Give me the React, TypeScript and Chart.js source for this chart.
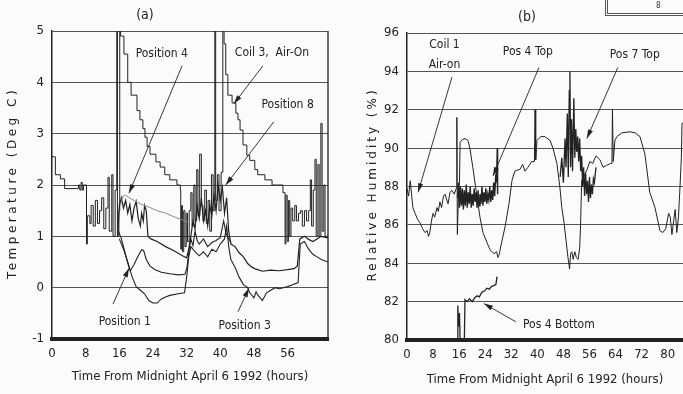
import { useEffect, useRef } from 'react';
import { Chart, registerables } from 'chart.js';

Chart.register(...registerables);

const NARROW = "'Liberation Sans Narrow', 'DejaVu Sans Condensed', 'Arial Narrow', 'Liberation Sans', sans-serif";
const PLOTTER = "'DejaVu Sans', 'Liberation Sans', sans-serif";
const INK = '#222222';
const GRID = '#555555';

type Pt = [number, number];

// ---------- Panel (a): temperature ----------
const hourMaxA = 65.6;
const hourTicksA = [0, 8, 16, 24, 32, 40, 48, 56];
const tempMin = -1;
const tempMax = 5;
const tempStep = 1;

const coil3AirOn: Pt[] = [
  [0, 2.55], [0.8, 2.2], [2, 2.12], [3, 1.93], [6.3, 2.0], [6.6, 1.9], [6.9, 2.05], [7.2, 1.9], [7.5, 2.0],
  [8.2, 0.85], [8.4, 1.4], [9, 1.25], [9.3, 1.6], [9.8, 1.2], [10.3, 1.7], [10.8, 1.25], [11.3, 1.5],
  [11.8, 1.75], [12.3, 1.15], [12.8, 1.55], [13.3, 2.15], [13.6, 1.1], [14.2, 2.2], [14.5, 1.0], [15, 1.9],
  [15.4, 5.6], [15.55, 1.0], [15.9, 1.5], [16.1, 5.6], [16.3, 4.9], [17.1, 4.55], [18, 4.0], [18.8, 3.75],
  [20.2, 3.45], [20.9, 3.27], [21.6, 3.1], [22.1, 2.93], [22.6, 2.75], [23.3, 2.6], [24.7, 2.45], [25.7, 2.35],
  [26.8, 2.2], [28, 2.1], [29.7, 2.0], [30.5, 1.9], [30.6, 0.75], [30.8, 1.6], [31, 0.7], [31.3, 1.5],
  [31.6, 0.8], [31.9, 1.45], [32.2, 0.9], [32.6, 1.5], [33, 1.85], [33.3, 1.2], [33.7, 2.0], [34, 1.3],
  [34.4, 2.3], [34.7, 1.4], [35.1, 2.6], [35.5, 1.6], [35.9, 1.3], [36.3, 1.9], [36.7, 1.25], [37.1, 1.7],
  [37.5, 1.1], [37.9, 2.2], [38.3, 1.5], [38.7, 5.6], [38.9, 1.7], [39.3, 2.2], [39.7, 1.5], [40.2, 2.25],
  [40.6, 5.6], [40.9, 4.75], [41.3, 4.15], [41.8, 3.75], [42.8, 3.6], [43.7, 3.4], [44.2, 3.27], [44.7, 3.07],
  [45.4, 2.78], [46.3, 2.58], [47, 2.48], [48.2, 2.3], [48.9, 2.2], [50.6, 2.1], [52.3, 2.0], [54.9, 1.85],
  [55.4, 0.85], [55.6, 1.8], [55.9, 0.9], [56.2, 1.7], [56.5, 1.0], [56.8, 1.55], [57.2, 1.3], [57.7, 1.6],
  [58.1, 1.3], [58.6, 1.45], [59.1, 1.5], [59.5, 1.2], [60, 1.5], [60.5, 1.3], [61, 1.5], [61.4, 2.1],
  [61.7, 1.2], [62.1, 1.9], [62.5, 2.5], [62.8, 1.0], [63.2, 2.4], [63.5, 1.0], [63.9, 3.2], [64.2, 1.1],
  [64.6, 2.0], [64.9, 1.0], [65.6, 1.0],
];

const position4: Pt[] = [
  [15.6, 1.0], [16, 1.6], [16.5, 1.75], [17, 1.55], [17.5, 1.7], [18, 1.45], [18.5, 1.62], [19, 1.3],
  [19.5, 1.55], [20, 1.68], [20.5, 1.35], [21, 1.2], [21.3, 1.45], [21.7, 1.3], [22, 1.6], [22.4, 1.5],
  [22.8, 1.0], [23.5, 0.95], [25, 0.9], [27, 0.8], [29, 0.72], [31, 0.62], [32, 0.58], [32.5, 0.75],
  [33, 1.0], [33.5, 1.3], [34, 1.15], [34.5, 1.6], [35, 1.35], [35.5, 1.75], [36, 1.3], [36.5, 1.5],
  [37, 1.2], [37.5, 1.6], [38, 1.4], [38.5, 1.8], [39, 1.5], [39.5, 2.0], [40, 1.7], [40.5, 1.95],
  [41, 1.45], [41.5, 1.75], [42, 1.1], [42.5, 0.85], [43.5, 0.8], [44.5, 0.68], [45.5, 0.6], [46.5, 0.47],
  [47.5, 0.4], [48.5, 0.36], [50, 0.32], [52, 0.34], [54, 0.33], [56, 0.35], [57.5, 0.37], [58.3, 0.42],
  [58.9, 0.95], [60, 1.0], [61, 0.94], [62, 0.9], [63, 0.95], [64, 1.0], [65.6, 0.97],
];

const position8: Pt[] = [
  [16.3, 1.6], [16.8, 1.78], [17.5, 1.8], [19, 1.72], [21, 1.63], [23, 1.57], [25, 1.5], [27, 1.45],
  [29, 1.38], [31, 1.32], [32.3, 1.28],
];

const position1: Pt[] = [
  [15.8, 1.1], [16.5, 0.95], [17.3, 0.7], [18, 0.48], [18.6, 0.33], [19.5, 0.45], [20.5, 0.62], [21.3, 0.74],
  [21.8, 0.72], [22.4, 0.55], [23.3, 0.42], [24.5, 0.35], [26, 0.3], [28, 0.27], [30, 0.25], [31.6, 0.26],
  [32.1, 0.4], [32.6, 0.75], [33, 0.95], [33.5, 0.82], [34, 1.1], [34.5, 0.92], [35, 0.85], [36, 0.95],
  [37, 0.8], [38, 0.88], [39, 0.92], [40, 0.98], [40.8, 1.3], [41.4, 1.05], [42, 0.95], [42.6, 0.88],
];

const position3: Pt[] = [
  [16, 0.95], [17, 0.75], [18, 0.5], [19, 0.22], [20, 0.02], [21, -0.05], [22, -0.12], [23, -0.25],
  [24, -0.3], [25, -0.3], [26, -0.22], [27, -0.18], [28, -0.15], [30, -0.12], [31.5, -0.1], [32, 0.2],
  [32.5, 0.6], [33, 0.8], [34, 0.7], [35, 0.62], [36, 0.7], [37, 0.6], [38, 0.75], [39, 0.7], [40, 0.85],
  [41, 0.95], [41.5, 1.2], [42, 0.8], [42.5, 0.55], [43.5, 0.4], [44.5, 0.2], [45.5, 0.06], [46.5, 0.0],
  [47, -0.1], [48, -0.2], [48.5, -0.08], [49, -0.15], [50, -0.25], [51, -0.1], [52, -0.05], [53, 0.0],
  [54, -0.02], [55, 0.0], [56, 0.02], [57, 0.05], [58.5, 0.1], [59, 0.85], [60, 0.9], [61, 0.75],
  [62, 0.65], [63, 0.6], [64, 0.55], [65.6, 0.5],
];

// ---------- Panel (b): relative humidity ----------
const hourMaxB = 84.7;
const hourTicksB = [0, 8, 16, 24, 32, 40, 48, 56, 64, 72, 80];
const rhMin = 80;
const rhMax = 96;
const rhStep = 2;

const coil1AirOn: Pt[] = [
  [0, 87.9], [0.5, 87.5], [1, 88.3], [1.4, 87.6], [1.8, 86.9], [2.5, 86.6], [3.2, 86.3], [4, 86.1],
  [4.8, 85.8], [5.5, 85.6], [6.2, 85.7], [6.6, 85.4], [7, 85.6], [7.5, 86.2], [8, 86.6], [8.5, 86.4],
  [9.2, 86.9], [9.6, 86.7], [10.1, 87.2], [10.6, 86.9], [11.2, 87.5], [11.7, 87.6], [12.2, 87.3], [12.6, 87.1],
  [13.2, 87.7], [13.8, 87.8], [14.5, 87.6], [15.1, 87.9], [15.3, 91.6], [15.45, 85.5], [15.8, 87.6], [16.1, 88.2],
  [16.3, 90.3], [17, 90.45], [17.8, 90.5], [18.7, 90.4], [19.3, 90.0], [20.2, 89.0], [21.2, 87.8], [22.4, 86.4],
  [23.3, 85.6], [24.5, 85.1], [25.5, 84.7], [26.7, 84.5], [27.5, 84.6], [27.9, 84.3], [28.3, 84.45], [28.8, 84.9],
  [30.1, 85.9], [31.3, 87.1], [32.2, 88.3], [33.1, 88.8], [33.8, 88.85], [34.7, 88.9], [35.5, 89.15], [36.2, 88.8],
  [37.1, 89.0], [38.3, 89.3], [39.1, 89.3], [39.3, 92.0], [39.5, 89.4], [39.9, 90.4], [41, 90.6], [42.3, 90.6],
  [43.9, 90.4], [44.8, 90.0], [46, 89.2], [46.9, 88.0], [47.5, 86.9], [48.2, 86.1], [48.8, 85.2], [49.4, 84.3],
  [49.9, 83.7], [50.2, 84.5], [50.6, 84.6], [51, 84.2], [51.5, 84.6], [52, 84.3], [52.5, 84.2], [53, 84.8],
  [53.3, 86.2], [53.6, 88.3], [54.5, 88.6], [55.3, 88.9], [56.1, 89.3], [57, 89.2], [58, 89.6], [59.2, 89.4],
  [60.2, 89.0], [61.2, 89.1], [62.5, 89.2], [62.9, 89.2], [63.05, 92.0], [63.3, 89.3], [63.8, 90.4], [64.4, 90.6],
  [66, 90.8], [68.4, 90.85], [70, 90.8], [71.5, 90.6], [73, 89.7], [73.9, 88.5], [74.5, 87.7], [76.1, 86.9],
  [77, 86.2], [77.6, 85.7], [78.5, 85.6], [79.4, 85.8], [80.3, 86.6], [80.8, 86.4], [81.3, 85.5], [81.9, 86.3],
  [82.3, 86.8], [82.8, 85.6], [83.3, 86.4], [83.7, 87.7], [84.2, 89.5], [84.4, 91.3], [84.7, 91.3],
];

const pos4Top: Pt[] = [
  [15.5, 87.4], [15.8, 88.2], [16.1, 86.9], [16.4, 88.0], [16.7, 87.0], [17, 87.9], [17.3, 86.8], [17.6, 87.8],
  [17.9, 87.0], [18.2, 88.1], [18.5, 86.9], [18.8, 87.7], [19.1, 87.1], [19.4, 88.0], [19.7, 86.9], [20, 87.6],
  [20.3, 87.0], [20.6, 87.9], [20.9, 87.2], [21.2, 87.7], [21.5, 86.9], [21.8, 87.8], [22.1, 87.0], [22.4, 87.6],
  [22.7, 87.1], [23, 88.0], [23.3, 87.0], [23.6, 87.7], [23.9, 87.2], [24.2, 87.9], [24.5, 87.1], [24.8, 87.6],
  [25.1, 87.3], [25.4, 88.0], [25.7, 87.2], [26, 87.8], [26.3, 87.3], [26.6, 88.2], [26.9, 87.5], [27.2, 88.5],
  [27.5, 88.3], [27.7, 90.0], [27.8, 87.6],
];

const pos7Top: Pt[] = [
  [47, 88.5], [47.5, 89.5], [48, 88.2], [48.5, 90.5], [48.8, 89.0], [49.2, 91.8], [49.5, 88.5], [49.8, 93.0],
  [50, 94.0], [50.2, 89.0], [50.5, 91.5], [50.8, 88.8], [51.2, 92.6], [51.5, 89.5], [51.8, 91.0], [52.1, 89.8],
  [52.4, 90.6], [52.7, 89.3], [53, 90.5], [53.3, 88.8], [53.6, 89.6], [53.9, 88.0], [54.2, 89.0], [54.5, 87.5],
  [54.8, 88.7], [55.1, 87.6], [55.4, 88.3], [55.7, 87.2], [56, 88.5], [56.3, 87.4], [56.6, 88.1], [56.9, 87.6],
  [57.2, 88.4], [57.5, 88.2], [58, 89.0],
];

const pos4Bottom: Pt[] = [
  [15.5, 80], [15.6, 81.8], [15.8, 80.7], [16.1, 81.4], [16.3, 80], [17.6, 80], [17.8, 82.1], [18.5, 82.0],
  [19.2, 82.15], [20, 82.0], [20.8, 82.2], [21.5, 82.3], [22.2, 82.25], [23, 82.5], [23.8, 82.55], [24.5, 82.7],
  [25.2, 82.65], [26, 82.8], [26.8, 82.85], [27.3, 82.9], [27.6, 83.3],
];

type Note = { text: string[]; at: Pt; from: Pt; to: Pt };

const notesA: Note[] = [
  { text: ['Position 4'], at: [26.1, 4.55], from: [30.9, 4.32], to: [18.3, 1.84] },
  { text: ['Coil 3,  Air-On'], at: [52.3, 4.57], from: [50.1, 4.32], to: [43.2, 3.58] },
  { text: ['Position 8'], at: [56, 3.56], from: [52.7, 3.23], to: [41.3, 2.0] },
  { text: ['Position 1'], at: [17.3, -0.67], from: [14.5, -0.32], to: [18.3, 0.38] },
  { text: ['Position 3'], at: [45.8, -0.75], from: [44.2, -0.47], to: [46.8, -0.01] },
];

const notesB: Note[] = [
  { text: ['Coil 1', 'Air-on'], at: [11.5, 94.85], from: [13.8, 93.7], to: [3.4, 87.7] },
  { text: ['Pos 4 Top'], at: [37.1, 95.0], from: [40.5, 94.2], to: [26.4, 88.55] },
  { text: ['Pos 7 Top'], at: [69.9, 94.85], from: [64.7, 94.2], to: [55.2, 90.5] },
  { text: ['Pos 4 Bottom'], at: [46.6, 80.8], from: [33.4, 80.95], to: [23.6, 81.9] },
];

type Decor = {
  panel: string; panelHour: number;
  yTitle: string; yTitleX: number; yTitleSpacing: number;
  xTitle: string; xTitleDy: number;
  notes: Note[]; rightBorder: boolean;
};

function decorPlugin(d: Decor) {
  return {
    id: 'decor',
    afterDraw(chart: any) {
      const { ctx, chartArea: a, scales } = chart;
      const xs = scales.x;
      const ys = scales.y;
      ctx.save();
      ctx.fillStyle = INK;
      ctx.strokeStyle = INK;
      if (d.rightBorder) {
        ctx.lineWidth = 1.3;
        ctx.beginPath();
        ctx.moveTo(a.right, a.top);
        ctx.lineTo(a.right, a.bottom);
        ctx.stroke();
      }
      ctx.textAlign = 'center';
      ctx.textBaseline = 'middle';
      ctx.font = `14px ${NARROW}`;
      ctx.fillText(d.panel, xs.getPixelForValue(d.panelHour), a.top - 16);
      ctx.font = `13px ${NARROW}`;
      ctx.fillText(d.xTitle, (a.left + a.right) / 2, a.bottom + d.xTitleDy);
      // y title
      ctx.save();
      ctx.translate(d.yTitleX, (a.top + a.bottom) / 2 - 2);
      ctx.rotate(-Math.PI / 2);
      ctx.font = `12px ${PLOTTER}`;
      (ctx as any).letterSpacing = `${d.yTitleSpacing}px`;
      ctx.fillText(d.yTitle, 0, 0);
      ctx.restore();
      // notes
      ctx.font = `12px ${NARROW}`;
      for (const n of d.notes) {
        const cx = xs.getPixelForValue(n.at[0]);
        const cy = ys.getPixelForValue(n.at[1]);
        const lh = 20;
        n.text.forEach((t, i) => {
          ctx.fillText(t, cx, cy + (i - (n.text.length - 1) / 2) * lh);
        });
        const fx = xs.getPixelForValue(n.from[0]);
        const fy = ys.getPixelForValue(n.from[1]);
        const tx = xs.getPixelForValue(n.to[0]);
        const ty = ys.getPixelForValue(n.to[1]);
        ctx.lineWidth = 0.9;
        ctx.beginPath();
        ctx.moveTo(fx, fy);
        ctx.lineTo(tx, ty);
        ctx.stroke();
        const ang = Math.atan2(ty - fy, tx - fx);
        const L = 9, W = 2.6;
        const c = Math.cos(ang), s = Math.sin(ang);
        ctx.beginPath();
        ctx.moveTo(tx, ty);
        ctx.lineTo(tx - L * c + W * s, ty - L * s - W * c);
        ctx.lineTo(tx - L * c - W * s, ty - L * s + W * c);
        ctx.closePath();
        ctx.fill();
      }
      ctx.restore();
    },
  };
}

function series(label: string, pts: Pt[], extra: any = {}) {
  return {
    label,
    data: pts.map(([x, y]) => ({ x, y })),
    borderColor: INK,
    borderWidth: 1,
    pointRadius: 0,
    tension: 0,
    fill: false,
    ...extra,
  };
}

function buildConfig(p: {
  datasets: any[]; hourMax: number; hourTicks: number[]; yMin: number; yMax: number; yStep: number;
  yWidth: number; xHeight: number; padTop: number; padRight: number; decor: Decor;
}) {
  const tickFont = { family: NARROW, size: 13 };
  return {
    type: 'line' as const,
    data: { datasets: p.datasets },
    options: {
      animation: false as const,
      responsive: true,
      maintainAspectRatio: false,
      layout: { padding: { top: p.padTop, right: p.padRight, left: 0, bottom: 0 } },
      plugins: { legend: { display: false }, tooltip: { enabled: false } },
      scales: {
        x: {
          type: 'linear' as const,
          min: 0,
          max: p.hourMax,
          ticks: { font: tickFont, color: INK, padding: 7, maxRotation: 0, autoSkip: false },
          grid: { display: false, drawTicks: false },
          border: { display: true, width: 4, color: INK },
          afterBuildTicks: (s: any) => { s.ticks = p.hourTicks.map((v) => ({ value: v })); },
          afterFit: (s: any) => { s.height = p.xHeight; },
        },
        y: {
          type: 'linear' as const,
          min: p.yMin,
          max: p.yMax,
          ticks: { stepSize: p.yStep, font: tickFont, color: INK, padding: 8 },
          grid: { color: GRID, lineWidth: 1, drawTicks: false },
          border: { display: true, width: 1.5, color: INK },
          afterFit: (s: any) => { s.width = p.yWidth; },
        },
      },
    },
    plugins: [decorPlugin(p.decor)],
  };
}

export default function App() {
  const leftRef = useRef<HTMLCanvasElement>(null);
  const rightRef = useRef<HTMLCanvasElement>(null);

  useEffect(() => {
    const left = new Chart(leftRef.current as HTMLCanvasElement, buildConfig({
      datasets: [
        series('Position 8', position8, { borderColor: '#8a8a8a' }),
        series('Coil 3, Air-On', coil3AirOn, { stepped: 'before' }),
        series('Position 4', position4, { borderWidth: 1.2 }),
        series('Position 1', position1, { borderWidth: 1.1 }),
        series('Position 3', position3, { borderWidth: 1.1 }),
      ],
      hourMax: hourMaxA, hourTicks: hourTicksA, yMin: tempMin, yMax: tempMax, yStep: tempStep,
      yWidth: 52, xHeight: 55, padTop: 31, padRight: 12,
      decor: {
        panel: '(a)', panelHour: 22.1,
        yTitle: 'Temperature (Deg C)', yTitleX: 13, yTitleSpacing: 3.5,
        xTitle: 'Time From Midnight April 6 1992 (hours)', xTitleDy: 38,
        notes: notesA, rightBorder: true,
      },
    }) as any);
    const right = new Chart(rightRef.current as HTMLCanvasElement, buildConfig({
      datasets: [
        series('Coil 1 Air-on', coil1AirOn),
        series('Pos 4 Top', pos4Top, { borderWidth: 1.4 }),
        series('Pos 7 Top', pos7Top, { borderWidth: 1.3 }),
        series('Pos 4 Bottom', pos4Bottom, { borderWidth: 1.3 }),
      ],
      hourMax: hourMaxB, hourTicks: hourTicksB, yMin: rhMin, yMax: rhMax, yStep: rhStep,
      yWidth: 67, xHeight: 54, padTop: 33, padRight: 0,
      decor: {
        panel: '(b)', panelHour: 36.8,
        yTitle: 'Relative Humidity (%)', yTitleX: 33, yTitleSpacing: 3,
        xTitle: 'Time From Midnight April 6 1992 (hours)', xTitleDy: 40,
        notes: notesB, rightBorder: false,
      },
    }) as any);
    return () => {
      left.destroy();
      right.destroy();
    };
  }, []);

  return (
    <div style={{ position: 'fixed', left: 0, top: 0, width: 683, height: 394, background: '#fbfbfb', overflow: 'hidden' }}>
      <div style={{ position: 'absolute', left: 0, top: 0, width: 340, height: 394 }}>
        <canvas ref={leftRef} />
      </div>
      <div style={{ position: 'absolute', left: 340, top: 0, width: 343, height: 394 }}>
        <canvas ref={rightRef} />
      </div>
      <div style={{
        position: 'absolute', left: 605, top: -6, width: 90, height: 22,
        border: '3px double #555', boxSizing: 'border-box',
        font: `8px ${NARROW}`, color: '#333',
      }}>
        <span style={{ position: 'absolute', left: 48, top: 4 }}>8</span>
      </div>
    </div>
  );
}
